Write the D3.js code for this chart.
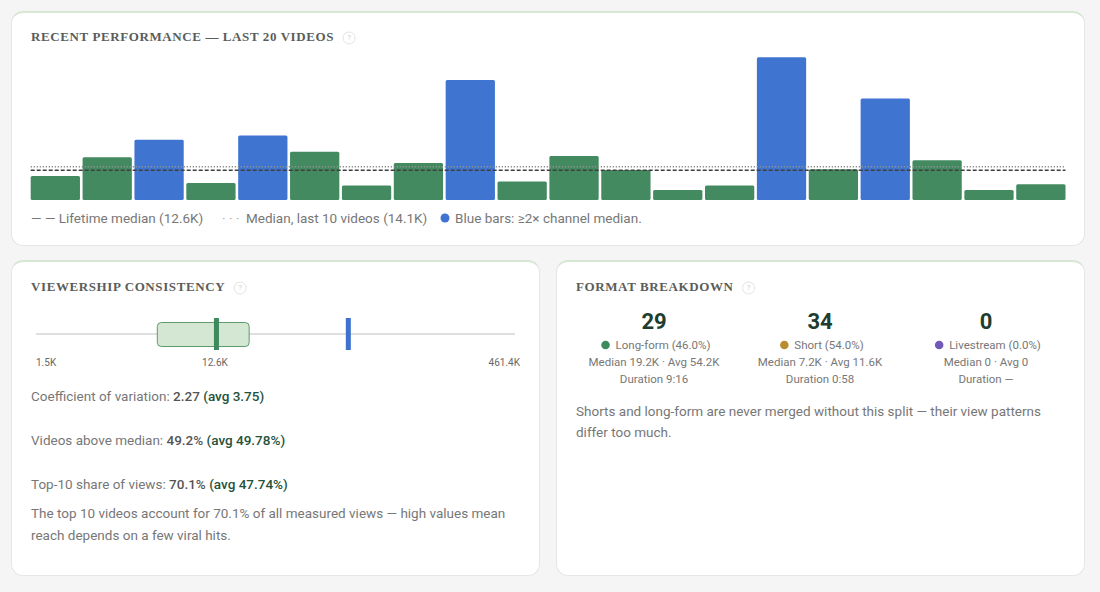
<!DOCTYPE html>
<html>
<head>
<meta charset="utf-8">
<script src="https://cdn.jsdelivr.net/npm/d3@7"></script>
<style>
  body { margin: 0; background: #f4f5f4; }
  #page { position: relative; width: 1100px; height: 592px; font-family: Roboto, "Noto Sans", sans-serif; }
  .card { position: absolute; background: #fff; border: 1px solid #e4e7e4; border-top: 2px solid #d6e7d3; border-radius: 12px; box-sizing: border-box; }
  svg { position: absolute; left: 0; top: 0; }
  .title { font-family: "Liberation Serif", serif; font-weight: bold; font-size: 13px; letter-spacing: 0.6px; fill: #5a5d5b; }
</style>
</head>
<body>
<div id="page"></div>
<script>
/* DATA */
const videos = d3.range(1, 21).map(i => "Video " + i);
const views = [10.2, 18.1, 25.5, 7.2, 27.3, 20.5, 6.1, 15.7, 50.9, 7.8,
  18.7, 12.7, 4.2, 6.1, 60.5, 13.0, 43.0, 16.8, 4.2, 6.7]; // thousands
const lifetimeMedian = 12.6;
const recentMedian = 14.1;

const rangeTicks = [1500, 12600, 461400];
const rangeTickLabels = ["1.5K", "12.6K", "461.4K"];
const boxQ1 = 6400, boxQ3 = 19200, boxMedian = 12600, meanMarker = 61000;

const metricLabels = ["Coefficient of variation: ", "Videos above median: ", "Top-10 share of views: "];
const metricValues = ["2.27", "49.2%", "70.1%"];
const metricAvgs = ["(avg 3.75)", "(avg 49.78%)", "(avg 47.74%)"];

const formats = ["Long-form", "Short", "Livestream"];
const formatCounts = [29, 34, 0];
const formatShares = ["46.0%", "54.0%", "0.0%"];
const formatMedians = ["19.2K", "7.2K", "0"];
const formatAvgs = ["54.2K", "11.6K", "0"];
const formatDurations = ["9:16", "0:58", "—"];
const formatColors = ["#3e8a5e", "#b88c2f", "#7159b8"];

const GREEN = "#448a61", BLUE = "#3f75d1";
const FS = 13.5;

/* CARDS */
const page = d3.select("#page");
[[11, 11, 1074, 235], [11, 260, 529, 316], [556, 260, 529, 316]].forEach(c => {
  page.append("div").attr("class", "card")
    .style("left", c[0] + "px").style("top", c[1] + "px")
    .style("width", c[2] + "px").style("height", c[3] + "px");
});

const svg = page.append("svg").attr("width", 1100).attr("height", 592);

function title(x, y, txt) {
  const t = svg.append("text").attr("class", "title").attr("x", x).attr("y", y)
    .attr("dominant-baseline", "middle").text(txt);
  const w = t.node().getComputedTextLength();
  const g = svg.append("g").attr("transform", `translate(${x + w + 15},${y})`);
  g.append("circle").attr("r", 6).attr("fill", "none").attr("stroke", "#e2e4e2");
  g.append("text").attr("text-anchor", "middle").attr("dominant-baseline", "middle")
    .attr("font-size", 8).attr("fill", "#cfd2cf").text("?");
}

/* 1. RECENT PERFORMANCE */
title(31, 38, "RECENT PERFORMANCE — LAST 20 VIDEOS");

const xScale = d3.scaleBand().domain(videos).range([30.7, 1065.5]).paddingInner(0.05);
const yScale = d3.scaleLinear().domain([0, d3.max(views)]).range([200, 57.3]);

svg.append("g").selectAll("rect")
  .data(views)
  .join("rect")
  .attr("x", (d, i) => xScale(videos[i]))
  .attr("y", d => yScale(d))
  .attr("width", xScale.bandwidth())
  .attr("height", d => 200 - yScale(d))
  .attr("rx", 1.5)
  .attr("fill", d => d >= 2 * lifetimeMedian ? BLUE : GREEN);

svg.append("line")
  .attr("x1", 30.7).attr("x2", 1065.5)
  .attr("y1", yScale(recentMedian)).attr("y2", yScale(recentMedian))
  .attr("stroke", "#8d918e").attr("stroke-width", 1.3).attr("stroke-dasharray", "1.3,1.7");
svg.append("line")
  .attr("x1", 30.7).attr("x2", 1065.5)
  .attr("y1", yScale(lifetimeMedian)).attr("y2", yScale(lifetimeMedian))
  .attr("stroke", "#3c3f3d").attr("stroke-width", 1.4).attr("stroke-dasharray", "4,2");

const legend = svg.append("g").attr("font-size", FS).attr("fill", "#777");
legend.append("text").attr("x", 31).attr("y", 219).attr("dominant-baseline", "middle")
  .text("— — Lifetime median (" + lifetimeMedian + "K)");
legend.append("text").attr("x", 222).attr("y", 219).attr("dominant-baseline", "middle")
  .attr("fill", "#aaa").text("· · ·");
legend.append("text").attr("x", 246).attr("y", 219).attr("dominant-baseline", "middle")
  .text("Median, last 10 videos (" + recentMedian + "K)");
legend.append("circle").attr("cx", 445).attr("cy", 218).attr("r", 4.5).attr("fill", BLUE);
legend.append("text").attr("x", 455).attr("y", 219).attr("dominant-baseline", "middle")
  .text("Blue bars: ≥2× channel median.");

/* 2. VIEWERSHIP CONSISTENCY */
title(31, 288, "VIEWERSHIP CONSISTENCY");

const rScale = d3.scaleLog().domain([rangeTicks[0], rangeTicks[2]]).range([36, 515]);
svg.append("line").attr("x1", 36).attr("x2", 515).attr("y1", 334).attr("y2", 334)
  .attr("stroke", "#dedfde").attr("stroke-width", 2);
svg.append("rect")
  .attr("x", rScale(boxQ1)).attr("y", 322.5)
  .attr("width", rScale(boxQ3) - rScale(boxQ1)).attr("height", 24)
  .attr("rx", 4).attr("fill", "#d3e7d3").attr("stroke", "#5f9a6e").attr("stroke-width", 1);
svg.append("rect").attr("x", rScale(boxMedian)).attr("y", 318).attr("width", 5).attr("height", 32)
  .attr("fill", "#3e8a5e");
svg.append("rect").attr("x", rScale(meanMarker)).attr("y", 318).attr("width", 5).attr("height", 32)
  .attr("fill", "#3f72cf");
svg.append("g").selectAll("text")
  .data(rangeTicks)
  .join("text")
  .attr("x", (d, i) => i === 0 ? rScale(d) : i === 2 ? rScale(d) + 5 : rScale(d) + 1)
  .attr("y", 363)
  .attr("text-anchor", (d, i) => ["start", "middle", "end"][i])
  .attr("dominant-baseline", "middle")
  .attr("font-size", 10).attr("fill", "#666")
  .text((d, i) => rangeTickLabels[i]);

metricLabels.forEach((lab, i) => {
  const t = svg.append("text").attr("x", 31).attr("y", 396.5 + i * 44.4)
    .attr("dominant-baseline", "middle").attr("font-size", FS);
  t.append("tspan").attr("fill", "#777").text(lab);
  t.append("tspan").attr("fill", "#555").attr("font-weight", 500).text(metricValues[i] + " ");
  t.append("tspan").attr("fill", "#24513a").attr("font-weight", 500).text(metricAvgs[i]);
});
["The top 10 videos account for 70.1% of all measured views — high values mean",
 "reach depends on a few viral hits."].forEach((line, i) => {
  svg.append("text").attr("x", 31).attr("y", 514.5 + i * 21.7).attr("dominant-baseline", "middle")
    .attr("font-size", FS).attr("fill", "#777").text(line);
});

/* 3. FORMAT BREAKDOWN */
title(576, 288, "FORMAT BREAKDOWN");

const fScale = d3.scaleBand().domain(formats).range([571, 1069]);
formats.forEach((f, i) => {
  const cx = fScale(f) + fScale.bandwidth() / 2;
  svg.append("text").attr("x", cx).attr("y", 323).attr("text-anchor", "middle")
    .attr("dominant-baseline", "middle").attr("font-size", 22).attr("font-weight", 700)
    .attr("fill", "#1e3d2e").text(formatCounts[i]);
  const lg = svg.append("g");
  const lt = lg.append("text").attr("x", 10).attr("y", 346).attr("dominant-baseline", "middle")
    .attr("font-size", 11.5).attr("fill", "#777").text(`${f} (${formatShares[i]})`);
  lg.append("circle").attr("cx", 0).attr("cy", 345).attr("r", 4.3).attr("fill", formatColors[i]);
  const w = 10 + lt.node().getComputedTextLength();
  lg.attr("transform", `translate(${cx - w / 2 + 4},0)`);
  svg.append("text").attr("x", cx).attr("y", 363).attr("text-anchor", "middle")
    .attr("dominant-baseline", "middle").attr("font-size", 11.5).attr("fill", "#777")
    .text(`Median ${formatMedians[i]} · Avg ${formatAvgs[i]}`);
  svg.append("text").attr("x", cx).attr("y", 380).attr("text-anchor", "middle")
    .attr("dominant-baseline", "middle").attr("font-size", 11.5).attr("fill", "#777")
    .text(`Duration ${formatDurations[i]}`);
});
["Shorts and long-form are never merged without this split — their view patterns",
 "differ too much."].forEach((line, i) => {
  svg.append("text").attr("x", 576).attr("y", 412 + i * 21.5).attr("dominant-baseline", "middle")
    .attr("font-size", FS).attr("fill", "#777").text(line);
});
</script>
</body>
</html>
